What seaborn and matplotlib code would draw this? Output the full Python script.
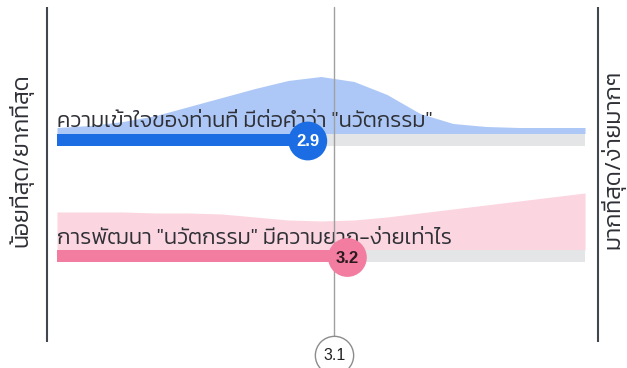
import numpy as np
import seaborn as sns
import matplotlib
matplotlib.use("Agg")
import matplotlib.pyplot as plt

# survey rows: question, mean score on a 1-5 scale
QUESTIONS = [
    'ความเข้าใจของท่านที่ มีต่อคำว่า "นวัตกรรม"',
    'การพัฒนา "นวัตกรรม" มีความยาก-ง่ายเท่าไร',
]
SCORES = [2.9, 3.2]
OVERALL = 3.1
SCALE_MIN, SCALE_MAX = 1, 5
LEFT_LABEL = "น้อยที่สุด/ยากที่สุด"
RIGHT_LABEL = "มากที่สุด/ง่ายมากๆ"

# answer distribution (relative density) read at every 0.25 of the scale
DENS_X = [1.0, 1.25, 1.5, 1.75, 2.0, 2.25, 2.5, 2.75, 3.0,
          3.25, 3.5, 3.75, 4.0, 4.25, 4.5, 4.75, 5.0]
DENS_UNDERSTAND = [0.06, 0.08, 0.12, 0.18, 0.27, 0.36, 0.45, 0.53, 0.57,
                   0.52, 0.39, 0.20, 0.10, 0.07, 0.06, 0.06, 0.06]
DENS_DIFFICULTY = [0.38, 0.38, 0.38, 0.37, 0.37, 0.36, 0.33, 0.30, 0.29,
                   0.30, 0.33, 0.37, 0.41, 0.45, 0.49, 0.53, 0.57]

BAR_COLORS = ["#1c6de3", "#f27da1"]
AREA_COLORS = ["#adc8f6", "#fbd5df"]
TRACK = "#e4e5e7"
TEXT = "#2e3036"
THAI = ["Kanit", "DejaVu Sans"]

sns.set_theme(style="white")
plt.rcParams["font.family"] = THAI

W, H = 627, 368
fig = plt.figure(figsize=(W / 100, H / 100), dpi=100)
ax = fig.add_axes([0, 0, 1, 1])

# pixel helpers: scale 1..5 spans x 57..585, rows are 116.5 px apart
X0, XPX = 57, 132.0
Y0, YPX = 139.5, 116.5
def px2x(px):
    return (px - X0) / XPX
def px2y(py):
    return (py - Y0) / YPX

span = SCALE_MAX - SCALE_MIN
bar_h = 12 / YPX
rows = np.arange(len(QUESTIONS))

# distributions
dx = np.array(DENS_X) - SCALE_MIN
for i, dens in enumerate([DENS_UNDERSTAND, DENS_DIFFICULTY]):
    top = i - bar_h / 2
    ax.fill_between(dx, top - np.array(dens) * 100 / YPX, top,
                    color=AREA_COLORS[i], lw=0, zorder=1)

# grey track + score bar
sns.barplot(x=[span] * len(QUESTIONS), y=QUESTIONS, color=TRACK, orient="h",
            width=bar_h, errorbar=None, saturation=1, ax=ax, zorder=2)
sns.barplot(x=np.array(SCORES) - SCALE_MIN, y=QUESTIONS, hue=QUESTIONS,
            palette=BAR_COLORS, orient="h", width=bar_h, errorbar=None,
            saturation=1, legend=False, ax=ax, zorder=3)
for p in ax.patches:
    p.set_linewidth(0)

# question labels
for i, q in enumerate(QUESTIONS):
    ax.text(0, i - 12.5 / YPX, q, fontsize=15.8, fontweight=300,
            color=TEXT, va="baseline", ha="left", zorder=4)

# overall average line
ax.plot([OVERALL - SCALE_MIN] * 2, [px2y(7), px2y(336)], color="#a0a0a0",
        lw=1.0, zorder=5)
ax.scatter([OVERALL - SCALE_MIN], [px2y(355)], s=760, facecolor="white",
           edgecolor="#8c8c8c", lw=1.0, zorder=6)
ax.text(OVERALL - SCALE_MIN, px2y(355), f"{OVERALL}", fontsize=11.5,
        family=["Liberation Sans"], color="#222222", ha="center",
        va="center", zorder=7)

# score circles
sns.scatterplot(x=np.array(SCORES) - SCALE_MIN, y=rows + 1.5 / YPX,
                hue=QUESTIONS, palette=BAR_COLORS, s=780, linewidth=0,
                legend=False, ax=ax, zorder=8)
for i, s in enumerate(SCORES):
    ax.text(s - SCALE_MIN, i + 2.5 / YPX, f"{s}", fontsize=12,
            family=["Liberation Sans"], fontweight="bold",
            color="white" if i == 0 else "#2a1a20",
            ha="center", va="center", zorder=9)

# scale end lines and labels
for px in (47, 598):
    ax.plot([px2x(px)] * 2, [px2y(7), px2y(342)], color="#43474d",
            lw=1.5, solid_capstyle="butt", zorder=3)
ax.text(px2x(21), px2y(160), LEFT_LABEL, rotation=90, fontsize=16.8,
        fontweight=300, color=TEXT, ha="center", va="center")
ax.text(px2x(613), px2y(159), RIGHT_LABEL, rotation=90, fontsize=16.8,
        fontweight=300, color=TEXT, ha="center", va="center")

ax.set_xlim(px2x(0), px2x(W))
ax.set_ylim(px2y(H), px2y(0))
ax.set_axis_off()

fig.savefig("out.png", dpi=100, facecolor="white")
